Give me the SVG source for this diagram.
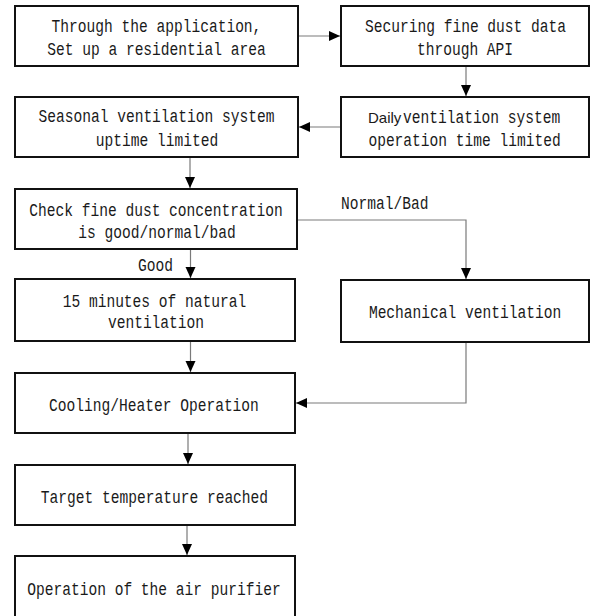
<svg xmlns="http://www.w3.org/2000/svg" width="591" height="616" viewBox="0 0 591 616">
<style>
.box{fill:#fff;stroke:#111;stroke-width:2}
.t{font-family:"Liberation Mono","DejaVu Sans Mono",monospace;font-size:18px;fill:#1a1a1a;text-anchor:middle}
.l{font-family:"Liberation Mono","DejaVu Sans Mono",monospace;font-size:18px;fill:#1a1a1a}
.c{fill:none;stroke:#7a7a7a;stroke-width:1.2}
.s{font-family:"Liberation Sans","Noto Sans",sans-serif;font-size:15px;fill:#1a1a1a}
</style>
<defs>
<marker id="ah" markerUnits="userSpaceOnUse" markerWidth="12" markerHeight="12" viewBox="0 0 12 12" refX="11" refY="6" orient="auto">
<path d="M0,1 L11,6 L0,11 Z" fill="#000"/>
</marker>
</defs>
<rect width="591" height="616" fill="#fff"/>
<g id="connectors">
<path class="c" d="M298,36 H340" marker-end="url(#ah)"/>
<path class="c" d="M466,66 V96" marker-end="url(#ah)"/>
<path class="c" d="M341,127 H299" marker-end="url(#ah)"/>
<path class="c" d="M190,157 V188" marker-end="url(#ah)"/>
<path class="c" d="M190.5,249 V278" marker-end="url(#ah)"/>
<path class="c" d="M298,220 H466 V279" marker-end="url(#ah)"/>
<path class="c" d="M190.5,341 V372" marker-end="url(#ah)"/>
<path class="c" d="M466,342 V403 H296" marker-end="url(#ah)"/>
<path class="c" d="M188,433 V464" marker-end="url(#ah)"/>
<path class="c" d="M187,525 V555" marker-end="url(#ah)"/>
<g transform="scale(0.81 1)">
<text class="l" x="170.4" y="271">Good</text>
<text class="l" x="421" y="209">Normal/Bad</text>
</g>
</g>
<g id="n1">
<rect class="box" x="15" y="6" width="283" height="60"/>
<g transform="scale(0.81 1)">
<text class="t" x="193.2" y="32">Through the application,</text>
<text class="t" x="193.2" y="55">Set up a residential area</text>
</g>
</g>
<g id="n2">
<rect class="box" x="341" y="6" width="248" height="60"/>
<g transform="scale(0.81 1)">
<text class="t" x="574.7" y="32">Securing fine dust data</text>
<text class="t" x="574.1" y="55">through API</text>
</g>
</g>
<g id="n3">
<rect class="box" x="341" y="97" width="248" height="60"/>
<text class="s" x="368" y="123">Daily</text>
<g transform="scale(0.81 1)">
<text class="l" x="497.5" y="123">ventilation system</text>
<text class="t" x="573.5" y="146">operation time limited</text>
</g>
</g>
<g id="n4">
<rect class="box" x="15" y="97" width="283" height="60"/>
<g transform="scale(0.81 1)">
<text class="t" x="193.2" y="122">Seasonal ventilation system</text>
<text class="t" x="193.8" y="146">uptime limited</text>
</g>
</g>
<g id="n5">
<rect class="box" x="15" y="189" width="282" height="60"/>
<g transform="scale(0.81 1)">
<text class="t" x="192.6" y="216">Check fine dust concentration</text>
<text class="t" x="193.8" y="238">is good/normal/bad</text>
</g>
</g>
<g id="n6">
<rect class="box" x="15" y="279" width="280" height="62"/>
<g transform="scale(0.81 1)">
<text class="t" x="190.7" y="307">15 minutes of natural</text>
<text class="t" x="192.6" y="328">ventilation</text>
</g>
</g>
<g id="n7">
<rect class="box" x="341" y="280" width="248" height="62"/>
<g transform="scale(0.81 1)">
<text class="t" x="574.1" y="318">Mechanical ventilation</text>
</g>
</g>
<g id="n8">
<rect class="box" x="15" y="373" width="280" height="60"/>
<g transform="scale(0.81 1)">
<text class="t" x="190.1" y="411">Cooling/Heater Operation</text>
</g>
</g>
<g id="n9">
<rect class="box" x="15" y="465" width="280" height="60"/>
<g transform="scale(0.81 1)">
<text class="t" x="190.7" y="503">Target temperature reached</text>
</g>
</g>
<g id="n10">
<rect class="box" x="15" y="556" width="280" height="62"/>
<g transform="scale(0.81 1)">
<text class="t" x="190.1" y="595">Operation of the air purifier</text>
</g>
</g>
</svg>
